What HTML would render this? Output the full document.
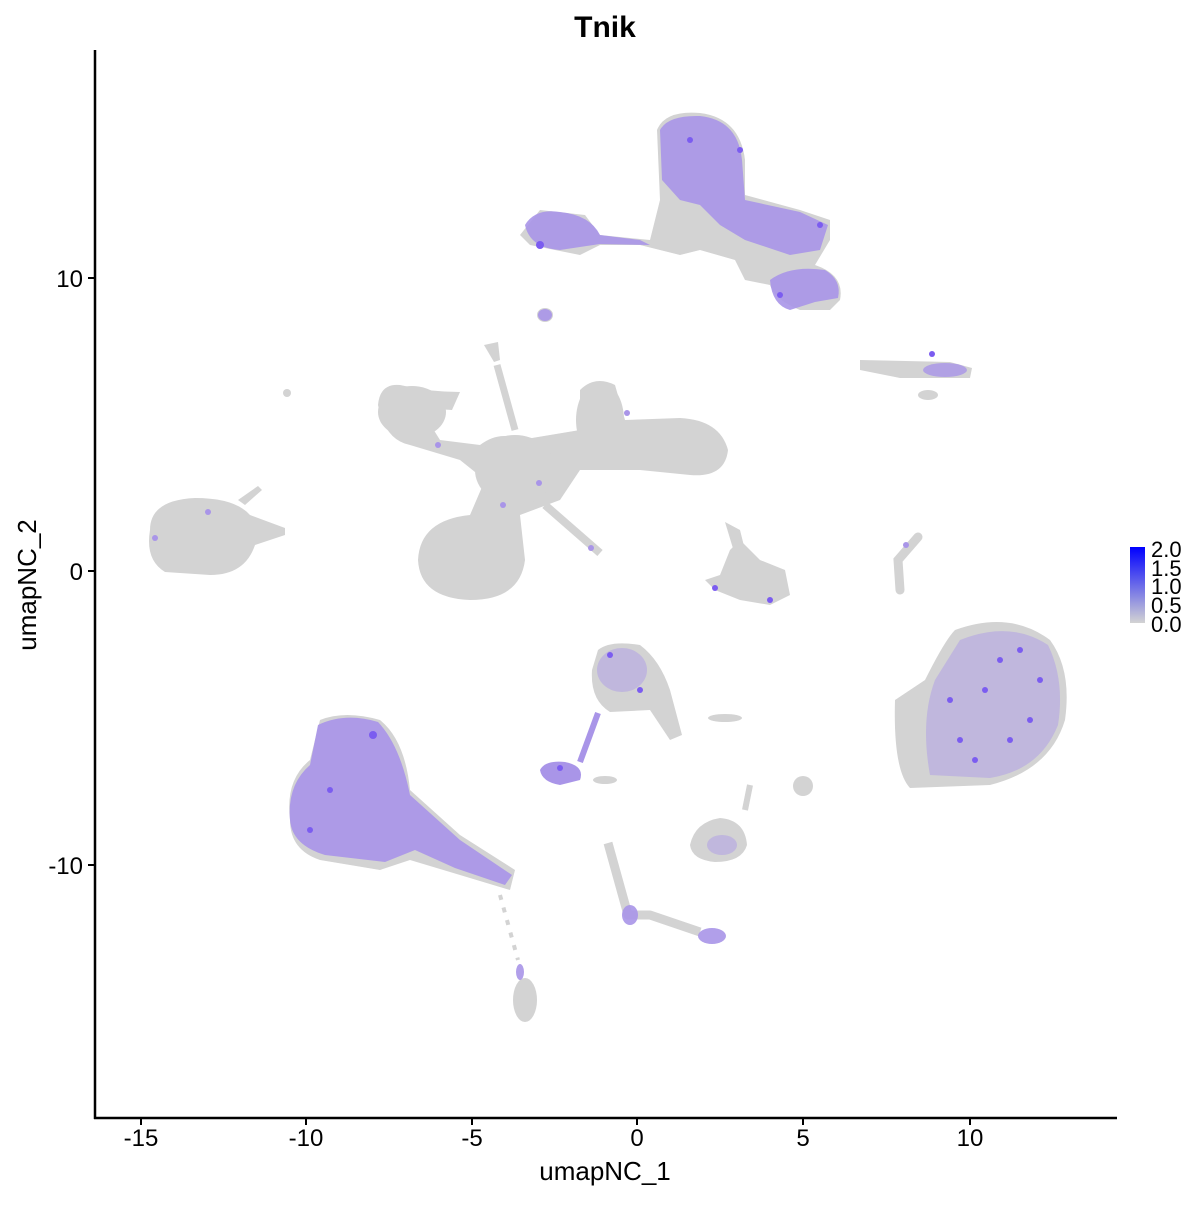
<!DOCTYPE html>
<html><head><meta charset="utf-8"><style>body{margin:0;background:#fff}</style></head><body>
<svg width="1200" height="1200" xmlns="http://www.w3.org/2000/svg" font-family="Liberation Sans, sans-serif">
<rect width="1200" height="1200" fill="#fff"/>
<text x="605" y="37" font-size="30" font-weight="bold" text-anchor="middle">Tnik</text>
<g fill="#d3d3d3">
<path d="M150 530 Q150 500 195 498 Q235 498 250 515 L285 528 L285 535 L255 545 Q245 575 210 575 L165 572 Q145 560 150 530 Z"/>
<path d="M238 500 L258 486 L262 490 L245 505 Z"/>
<circle cx="287" cy="393" r="4"/>
<path d="M378 405 Q380 383 400 385 Q430 392 460 392 L452 410 L420 408 L440 440 L480 445 Q500 430 520 440 L580 430 L580 390 Q595 375 615 385 L625 420 L680 418 Q720 420 728 450 Q725 478 690 475 L640 470 L580 470 L560 500 L520 515 L525 560 Q520 600 470 600 Q420 598 418 560 Q420 520 470 515 L485 480 L460 460 L410 445 Q385 440 378 405 Z"/>
<ellipse cx="412" cy="412" rx="34" ry="26"/>
<ellipse cx="600" cy="420" rx="24" ry="38"/>
<ellipse cx="515" cy="470" rx="40" ry="35"/>
<path d="M484 345 L498 342 L500 360 L494 362 Z"/>
<polyline points="497,365 515,430" stroke="#d3d3d3" stroke-width="7" fill="none"/>
<polyline points="545,505 600,553" stroke="#d3d3d3" stroke-width="8" fill="none"/>
<path d="M955 630 Q1010 610 1050 640 Q1072 670 1065 720 Q1050 770 990 785 L910 788 Q893 770 895 700 L925 680 Q945 640 955 630 Z"/>
<polyline points="918,537 898,560 900,590" stroke="#d3d3d3" stroke-width="9" fill="none" stroke-linecap="round"/>
<path d="M705 580 L720 575 L730 550 L740 540 L760 560 L785 570 L790 595 L770 605 L740 600 L715 590 Z"/>
<path d="M725 522 L740 530 L745 550 L735 555 Z"/>
<path d="M598 650 Q610 640 640 645 Q660 660 670 690 L682 735 L670 740 L650 710 L610 712 Q590 700 592 670 Z"/>
<path d="M690 845 Q695 822 720 818 Q745 820 747 845 Q742 862 715 862 Q692 860 690 845 Z"/>
<polyline points="745,810 750,785" stroke="#d3d3d3" stroke-width="6" fill="none"/>
<polyline points="608,843 628,915 650,915 700,932" stroke="#d3d3d3" stroke-width="9" fill="none" stroke-linejoin="round"/>
<polyline points="500,895 518,960" stroke="#d3d3d3" stroke-width="4" fill="none" stroke-dasharray="5 8"/>
<ellipse cx="525" cy="1000" rx="12" ry="22"/>
<ellipse cx="803" cy="786" rx="10" ry="10"/>
<ellipse cx="725" cy="718" rx="17" ry="4"/>
<ellipse cx="605" cy="780" rx="12" ry="4"/>
<path d="M290 820 Q285 780 310 760 L320 720 Q345 710 380 720 Q405 740 410 790 L460 835 L515 870 L510 890 L460 875 L410 860 L380 870 L320 860 Q290 850 290 820 Z"/>
<path d="M657 130 Q665 110 700 113 Q740 118 745 160 L745 195 L800 210 L830 220 L830 240 L815 265 Q845 275 840 300 L830 310 L800 310 Q775 300 770 285 L745 280 L735 260 L700 250 L680 255 L640 245 L600 245 L580 255 L530 245 L520 235 L540 210 L585 215 L600 235 L650 240 L660 200 Z"/>
<path d="M860 360 L950 362 L972 368 L970 378 L900 378 L860 370 Z"/>
<ellipse cx="928" cy="395" rx="10" ry="5"/>
<ellipse cx="545" cy="315" rx="8" ry="7"/>
</g>
<g fill="#a995e8">
<path d="M290 820 Q287 785 310 765 L318 725 Q345 712 378 722 Q400 745 410 795 L460 840 L512 875 L505 885 L455 868 L415 850 L385 862 L325 855 Q292 845 290 820 Z" opacity="0.92"/>
<path d="M660 130 Q668 115 700 116 Q738 120 742 160 L745 200 L800 212 L828 225 L820 250 L790 255 L745 240 L720 225 L700 205 L680 200 L662 180 Z" opacity="0.9"/>
<path d="M770 280 Q790 265 825 270 Q842 280 838 298 L815 302 L790 310 Q772 305 770 280 Z" opacity="0.9"/>
<path d="M525 225 Q535 208 560 212 Q590 215 600 235 L640 240 L650 245 L600 244 L560 250 Q530 248 525 225 Z" opacity="0.9"/>
<ellipse cx="545" cy="315" rx="7" ry="6" opacity="0.9"/>
<ellipse cx="945" cy="370" rx="22" ry="7" opacity="0.8"/>
<path d="M540 770 Q545 760 565 762 Q585 766 580 780 L560 785 Q542 782 540 770 Z"/>
<polyline points="580,762 598,713" stroke="#a995e8" stroke-width="6" fill="none"/>
<ellipse cx="712" cy="936" rx="14" ry="8" opacity="0.9"/>
<ellipse cx="630" cy="915" rx="8" ry="10" opacity="0.9"/>
<ellipse cx="520" cy="972" rx="4" ry="8" opacity="0.9"/>
</g>
<g fill="#a995e8" opacity="0.45">
<path d="M960 640 Q1010 620 1048 645 Q1065 680 1058 725 Q1040 770 990 778 L930 775 Q920 720 935 680 Z"/>
<ellipse cx="622" cy="670" rx="25" ry="22"/>
<ellipse cx="722" cy="845" rx="15" ry="10"/>
</g>
<g fill="#7b5cf0">
<circle cx="373" cy="735" r="4"/><circle cx="540" cy="245" r="4"/><circle cx="690" cy="140" r="3"/>
<circle cx="780" cy="295" r="3"/><circle cx="932" cy="354" r="3"/><circle cx="330" cy="790" r="3"/>
<circle cx="1000" cy="660" r="3"/><circle cx="1030" cy="720" r="3"/><circle cx="960" cy="740" r="3"/>
<circle cx="820" cy="225" r="3"/><circle cx="310" cy="830" r="3"/><circle cx="740" cy="150" r="3"/>
<circle cx="985" cy="690" r="3"/><circle cx="1010" cy="740" r="3"/><circle cx="1040" cy="680" r="3"/>
<circle cx="950" cy="700" r="3"/><circle cx="975" cy="760" r="3"/><circle cx="1020" cy="650" r="3"/>
<circle cx="610" cy="655" r="3"/><circle cx="640" cy="690" r="3"/><circle cx="560" cy="768" r="3"/>
<circle cx="770" cy="600" r="3"/><circle cx="715" cy="588" r="3"/>
</g>
<g fill="#a995e8">
<circle cx="539" cy="483" r="3"/><circle cx="503" cy="505" r="3"/><circle cx="627" cy="413" r="3"/>
<circle cx="438" cy="445" r="3"/><circle cx="208" cy="512" r="3"/><circle cx="155" cy="538" r="3"/>
<circle cx="591" cy="548" r="3"/><circle cx="906" cy="545" r="3"/>
</g>
<line x1="95" y1="50" x2="95" y2="1119" stroke="#000" stroke-width="2.5"/>
<line x1="94" y1="1118" x2="1117" y2="1118" stroke="#000" stroke-width="2.5"/>
<g stroke="#000" stroke-width="2">
<line x1="141" y1="1118" x2="141" y2="1125"/><line x1="306" y1="1118" x2="306" y2="1125"/>
<line x1="472" y1="1118" x2="472" y2="1125"/><line x1="637" y1="1118" x2="637" y2="1125"/>
<line x1="803" y1="1118" x2="803" y2="1125"/><line x1="970" y1="1118" x2="970" y2="1125"/>
<line x1="88" y1="278" x2="95" y2="278"/><line x1="88" y1="571" x2="95" y2="571"/><line x1="88" y1="865" x2="95" y2="865"/>
</g>
<g font-size="24" text-anchor="middle">
<text x="141" y="1146">-15</text><text x="306" y="1146">-10</text><text x="472" y="1146">-5</text>
<text x="637" y="1146">0</text><text x="803" y="1146">5</text><text x="970" y="1146">10</text>
</g>
<g font-size="24" text-anchor="end">
<text x="83" y="287">10</text><text x="83" y="580">0</text><text x="83" y="874">-10</text>
</g>
<text x="605" y="1180" font-size="26" text-anchor="middle">umapNC_1</text>
<text transform="translate(36,585) rotate(-90)" font-size="26" text-anchor="middle">umapNC_2</text>
<defs><linearGradient id="g" x1="0" y1="1" x2="0" y2="0"><stop offset="0" stop-color="#d3d3d3"/><stop offset="1" stop-color="#0000ff"/></linearGradient></defs>
<rect x="1130" y="547" width="15" height="76" fill="url(#g)"/>
<g font-size="22"><text x="1151" y="557">2.0</text><text x="1151" y="576">1.5</text><text x="1151" y="594">1.0</text><text x="1151" y="613">0.5</text><text x="1151" y="632">0.0</text></g>
</svg>
</body></html>
